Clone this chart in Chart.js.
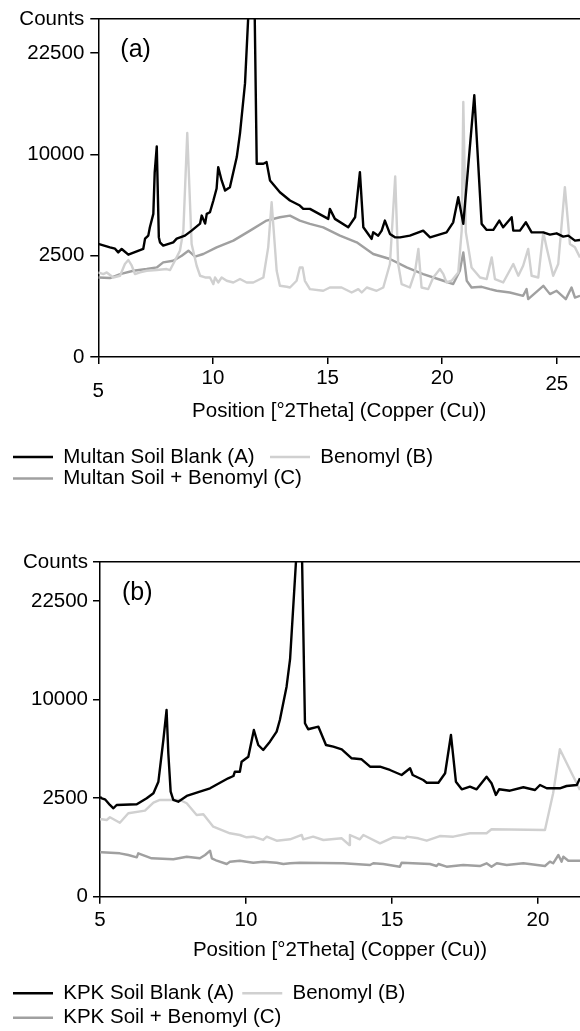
<!DOCTYPE html>
<html>
<head>
<meta charset="utf-8">
<script src="https://cdn.jsdelivr.net/npm/chart.js@4.4.1/dist/chart.umd.min.js"></script>
<style>
  html, body { margin: 0; padding: 0; background: #fff; overflow: hidden; }
  .panel { position: relative; width: 580px; }
  #wrapA { height: 540px; }
  #wrapB { height: 491px; }
</style>
</head>
<body>
<div class="panel" id="wrapA"><canvas id="chartA"></canvas></div>
<div class="panel" id="wrapB"><canvas id="chartB"></canvas></div>
<script>
const FONT = '"Liberation Sans", Arial, Helvetica, sans-serif';
Chart.defaults.font.family = FONT;
Chart.defaults.font.size = 20.5;
Chart.defaults.color = '#000';

// axis ticks
const countTicks = [0, 2500, 10000, 22500];
const thetaTicksA = [5, 10, 15, 20, 25];
const thetaTicksB = [5, 10, 15, 20];

// (a) Multan soil, [2theta, counts]
const multanBlank = [
  [5.00, 3113], [5.51, 2928], [5.73, 2859], [5.87, 2666], [6.02, 2843], [6.31, 2550], [6.96, 2843],
  [7.04, 3412], [7.18, 3588], [7.25, 4097], [7.40, 4990], [7.46, 8300], [7.55, 10800], [7.64, 3500],
  [7.69, 3202], [7.83, 3020], [8.27, 3202], [8.42, 3412], [8.78, 3588], [9.07, 3891], [9.44, 4335],
  [9.51, 4872], [9.66, 4335], [9.73, 4990], [9.87, 5103], [10.02, 5964], [10.16, 6917], [10.23, 8782],
  [10.38, 7592], [10.53, 6753], [10.74, 7024], [11.04, 9735], [11.18, 12187], [11.40, 18265],
  [11.55, 29000], [11.82, 29000], [11.91, 9100], [12.20, 9100], [12.34, 9252], [12.49, 7592],
  [12.92, 6615], [13.36, 5964], [13.79, 5588], [13.94, 5346], [14.23, 5346], [15.03, 4647],
  [15.10, 5346], [15.32, 4647], [15.90, 4097], [16.20, 4756], [16.41, 8324], [16.56, 4097],
  [16.77, 3690], [16.92, 3400], [16.99, 3786], [17.21, 3588], [17.36, 3891], [17.50, 4533],
  [17.72, 3690], [17.94, 3488], [18.16, 3488], [18.59, 3588], [19.17, 3891], [19.47, 3488],
  [20.19, 3786], [20.48, 4420], [20.70, 6219], [20.92, 4316], [21.40, 16695], [21.72, 4316],
  [21.94, 3934], [22.23, 3934], [22.49, 4533], [22.66, 4097], [23.03, 4756], [23.10, 3891],
  [23.39, 3891], [23.65, 4420], [23.90, 3786], [24.41, 3786], [24.70, 3648], [24.99, 3726],
  [25.28, 3529], [25.50, 3588], [25.79, 3298], [26.01, 3338]
];
const multanBenomyl = [
  [5.00, 1742], [5.22, 1676], [5.37, 1742], [5.65, 1541], [5.95, 1608], [6.16, 2106], [6.31, 2292],
  [6.46, 2029], [6.60, 1676], [6.82, 1742], [7.11, 1813], [7.55, 1842], [7.98, 1885], [8.13, 1842],
  [8.34, 2259], [8.56, 2754], [8.71, 3891], [8.88, 12220], [9.07, 3113], [9.29, 2029], [9.44, 1608],
  [9.66, 1541], [9.87, 1541], [10.02, 1295], [10.09, 1541], [10.23, 1353], [10.38, 1541],
  [10.60, 1416], [10.89, 1353], [11.18, 1480], [11.47, 1353], [11.76, 1353], [12.20, 1541],
  [12.41, 2928], [12.56, 5835], [12.78, 1813], [12.92, 1235], [13.22, 1201], [13.36, 1177],
  [13.65, 1416], [13.79, 1954], [13.91, 1954], [14.01, 1416], [14.23, 1123], [14.81, 1068],
  [15.10, 1177], [15.61, 1177], [16.05, 1013], [16.34, 1123], [16.49, 1013], [16.71, 1177],
  [17.14, 1068], [17.43, 1177], [17.72, 2106], [17.95, 7940], [18.08, 2106], [18.23, 1295],
  [18.59, 1177], [18.81, 1742], [18.96, 2843], [19.10, 1177], [19.39, 1123], [19.61, 1541],
  [19.90, 1885], [20.05, 1676], [20.19, 1353], [20.41, 1416], [20.70, 1742], [20.85, 3891],
  [20.92, 15850], [21.03, 3800], [21.28, 1954], [21.65, 1541], [21.94, 1480], [22.16, 2417],
  [22.30, 1480], [22.66, 1353], [23.10, 2106], [23.32, 1608], [23.53, 2029], [23.75, 2843],
  [23.90, 1608], [24.19, 1541], [24.41, 3786], [24.55, 2928], [24.84, 1608], [25.06, 2106],
  [25.35, 7024], [25.57, 3113], [25.79, 2928], [26.01, 2417]
];
const multanMix = [
  [5.00, 1541], [5.51, 1518], [5.95, 1676], [6.53, 1813], [7.11, 1885], [7.55, 1954], [7.83, 2179],
  [8.27, 2259], [8.64, 2500], [8.93, 2754], [9.22, 2451], [9.58, 2585], [10.16, 2928], [10.89, 3298],
  [11.62, 3891], [12.34, 4533], [12.92, 4756], [13.36, 4872], [13.79, 4533], [14.23, 4316],
  [14.81, 4097], [15.54, 3588], [16.27, 3202], [16.99, 2585], [17.72, 2339], [18.45, 1954],
  [19.17, 1676], [20.05, 1416], [20.48, 1295], [20.77, 1813], [20.92, 2666], [21.07, 1416],
  [21.28, 1177], [21.72, 1201], [22.08, 1123], [22.37, 1068], [22.95, 1013], [23.53, 912],
  [23.68, 1123], [23.75, 816], [24.41, 1235], [24.70, 963], [24.99, 1068], [25.39, 816],
  [25.64, 1177], [25.79, 862], [26.01, 912]
];

// (b) KPK soil, [2theta, counts]
const kpkBlank = [
  [5.00, 2560], [5.06, 2490], [5.17, 2440], [5.34, 2162], [5.46, 2010], [5.57, 2162], [6.26, 2196],
  [6.60, 2490], [6.83, 2749], [7.00, 3401], [7.17, 6314], [7.28, 8964], [7.34, 5288], [7.42, 2835],
  [7.51, 2405], [7.68, 2321], [7.97, 2608], [8.42, 2835], [8.77, 3022], [9.11, 3342], [9.39, 3605],
  [9.57, 3746], [9.62, 4018], [9.79, 4018], [9.85, 4687], [10.08, 5040], [10.14, 5663], [10.27, 7146],
  [10.42, 5918], [10.59, 5534], [10.82, 6178], [11.05, 7001], [11.16, 8029], [11.39, 11340],
  [11.51, 14500], [11.72, 29500], [11.92, 29500], [12.02, 7732], [12.13, 7206], [12.48, 7432],
  [12.74, 5918], [12.99, 5786], [13.28, 5587], [13.62, 4926], [13.96, 4855], [14.25, 4346],
  [14.59, 4346], [14.93, 4128], [15.33, 3809], [15.62, 4240], [15.71, 3809], [16.07, 3502],
  [16.19, 3342], [16.59, 3342], [16.82, 3916], [17.02, 6724], [17.19, 3401], [17.39, 2966],
  [17.67, 3111], [17.90, 2966], [18.24, 3703], [18.41, 3307], [18.56, 2660], [18.67, 2966],
  [19.04, 2889], [19.50, 3078], [19.90, 2928], [20.07, 3208], [20.30, 3022], [20.75, 3022],
  [20.98, 3151], [21.33, 3208], [21.44, 3605]
];
const kpkBenomyl = [
  [5.00, 1541], [5.06, 1541], [5.23, 1513], [5.34, 1621], [5.51, 1513], [5.68, 1408], [5.97, 1789],
  [6.54, 1902], [6.83, 2272], [7.05, 2405], [7.74, 2405], [7.97, 2243], [8.31, 1716], [8.54, 1746],
  [8.88, 1260], [9.45, 1034], [9.79, 979], [10.02, 907], [10.25, 926], [10.59, 827], [10.71, 926],
  [11.05, 806], [11.51, 847], [11.91, 979], [11.96, 847], [12.30, 926], [12.65, 827], [13.28, 877],
  [13.54, 687], [13.56, 979], [13.90, 847], [14.02, 979], [14.59, 733], [15.04, 907], [15.46, 877],
  [15.50, 926], [15.90, 877], [16.19, 806], [16.64, 947], [17.10, 926], [17.67, 1034], [18.24, 1034],
  [18.41, 1168], [20.24, 1144], [20.52, 2749], [20.75, 5587], [21.10, 4128], [21.44, 2928]
];
const kpkMix = [
  [5.00, 507], [5.06, 507], [5.68, 484], [5.97, 447], [6.26, 399], [6.31, 484], [6.77, 379],
  [7.51, 360], [7.97, 411], [8.42, 379], [8.60, 447], [8.77, 544], [8.83, 379], [9.00, 333],
  [9.34, 275], [9.45, 315], [9.79, 333], [10.25, 297], [10.59, 315], [11.05, 297], [11.28, 275],
  [11.51, 287], [11.85, 297], [13.33, 287], [14.25, 258], [14.36, 287], [14.70, 275], [15.27, 231],
  [15.33, 297], [16.30, 275], [16.53, 242], [16.59, 275], [16.87, 231], [17.44, 258], [18.01, 242],
  [18.24, 287], [18.41, 231], [18.59, 287], [18.93, 258], [19.50, 287], [20.24, 242], [20.41, 315],
  [20.52, 287], [20.70, 447], [20.81, 315], [20.87, 411], [21.04, 333], [21.44, 333]
];

// square-root count axis
class SqrtScale extends Chart.LinearScale {
  getPixelForValue(value) {
    const r = Math.sqrt(Math.max(value, 0)) / Math.sqrt(this.max);
    return this.getPixelForDecimal(r);
  }
  getValueForPixel(pixel) {
    const r = this.getDecimalForPixel(pixel) * Math.sqrt(this.max);
    return r * r;
  }
}
SqrtScale.id = 'sqrt';
SqrtScale.defaults = Chart.LinearScale.defaults;
Chart.register(SqrtScale);

// "(a)" / "(b)" tag in the plot corner
const panelTag = {
  id: 'panelTag',
  afterDraw(chart, args, opts) {
    const { ctx, chartArea } = chart;
    ctx.save();
    ctx.font = '25px ' + FONT;
    ctx.fillStyle = '#000';
    ctx.textBaseline = 'middle';
    ctx.fillText(opts.text, chartArea.left + opts.dx, chartArea.top + opts.dy);
    ctx.restore();
  }
};

function drawPanel(canvasId, p) {
  const axisLine = { color: '#000', width: 1.5 };
  const defaultLabels = Chart.Legend.defaults.labels.generateLabels;
  return new Chart(document.getElementById(canvasId), {
    type: 'line',
    data: {
      datasets: p.series.map(s => ({
        label: s.label,
        data: s.data,
        borderColor: s.color,
        backgroundColor: s.color,
        borderWidth: 2.4,
        pointRadius: 0,
        tension: 0,
        borderJoinStyle: 'round',
        fill: false
      }))
    },
    options: {
      responsive: true,
      maintainAspectRatio: false,
      animation: false,
      events: [],
      layout: { autoPadding: false, padding: p.padding },
      plugins: {
        tooltip: { enabled: false },
        legend: {
          position: 'bottom',
          align: 'start',
          maxHeight: 52,
          labels: {
            usePointStyle: true,
            pointStyle: 'line',
            pointStyleWidth: 40,
            padding: p.legendPad,
            color: '#000',
            font: { size: 20.5 },
            // a little extra room after the first entry on the row
            generateLabels: chart => defaultLabels(chart).map((item, i) =>
              i === 0 ? Object.assign(item, { text: item.text + p.legendGap }) : item)
          }
        },
        panelTag: { text: p.tag, dx: 22, dy: 31 }
      },
      scales: {
        x: {
          type: 'linear',
          min: 5,
          max: p.xMax,
          afterBuildTicks: s => { s.ticks = p.xTicks.map(value => ({ value })); },
          afterFit: s => { s.height = p.xAxisHeight; },
          ticks: {
            autoSkip: false,
            maxRotation: 0,
            padding: p.xTickPad,
            callback: v => (p.dropLabel[v] ? ['', String(v)] : String(v)),
            font: c => ({ size: 20.5, lineHeight: (c.tick && p.dropLabel[c.tick.value]) || 1.2 })
          },
          grid: { drawOnChartArea: false, tickLength: 7, color: '#000', lineWidth: 1.5 },
          border: axisLine,
          title: {
            display: true,
            text: 'Position [°2Theta] (Copper (Cu))',
            padding: { top: 0, bottom: p.titlePad },
            font: { size: 20.5 }
          }
        },
        xTop: {
          type: 'linear',
          position: 'top',
          min: 5,
          max: p.xMax,
          ticks: { display: false },
          grid: { display: false, drawTicks: false },
          border: axisLine
        },
        y: {
          type: 'sqrt',
          min: 0,
          max: p.yMax,
          afterBuildTicks: s => { s.ticks = countTicks.concat(s.max).map(value => ({ value })); },
          afterFit: s => { s.width = p.yAxisWidth; },
          ticks: {
            autoSkip: false,
            padding: p.yTickPad,
            callback: v => (v > 22500 ? 'Counts' : String(v))
          },
          grid: { drawOnChartArea: false, tickLength: p.yTickLen, color: '#000', lineWidth: 1.5 },
          border: axisLine
        }
      }
    },
    plugins: [panelTag]
  });
}

drawPanel('chartA', {
  tag: '(a)',
  series: [
    { label: 'Multan Soil Blank (A)', data: multanBlank, color: '#000000' },
    { label: 'Benomyl (B)', data: multanBenomyl, color: '#d0d0d0' },
    { label: 'Multan Soil + Benomyl (C)', data: multanMix, color: '#a0a0a0' }
  ],
  padding: { top: 19, left: 12, right: 0, bottom: 42.25 },
  legendPad: 1,
  legendGap: '\u2002\u2009',
  xMax: 26.01,
  xTicks: thetaTicksA,
  xAxisHeight: 88.75,
  xTickPad: 2,
  dropLabel: { 5: 0.81, 25: 0.6 },
  titlePad: 22.5,
  yMax: 27830,
  yAxisWidth: 86.3,
  yTickPad: 6,
  yTickLen: 8
});

drawPanel('chartB', {
  tag: '(b)',
  series: [
    { label: 'KPK Soil Blank (A)', data: kpkBlank, color: '#000000' },
    { label: 'Benomyl (B)', data: kpkBenomyl, color: '#d0d0d0' },
    { label: 'KPK Soil + Benomyl (C)', data: kpkMix, color: '#a0a0a0' }
  ],
  padding: { top: 22, left: 9, right: 0, bottom: 0 },
  legendPad: 4,
  legendGap: '\u2009',
  xMax: 21.44,
  xTicks: thetaTicksB,
  xAxisHeight: 82.3,
  xTickPad: 4.5,
  dropLabel: {},
  titlePad: 16.7,
  yMax: 28800,
  yAxisWidth: 91,
  yTickPad: 5,
  yTickLen: 7
});
</script>
</body>
</html>
